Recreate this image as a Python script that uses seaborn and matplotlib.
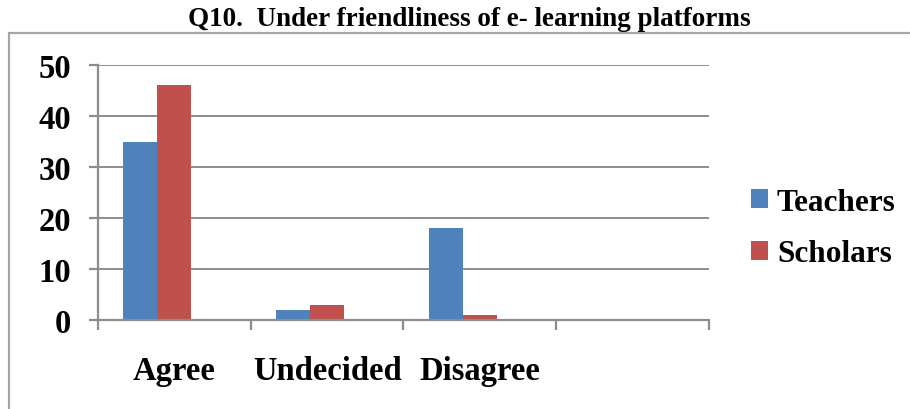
import matplotlib
matplotlib.use("Agg")
import matplotlib.pyplot as plt
from matplotlib.patches import Rectangle
from matplotlib.ticker import FixedLocator
import seaborn as sns
import pandas as pd

# Survey responses
categories = ["Agree", "Undecided", "Disagree"]
slots = categories + [""]
teachers = [35, 2, 18]
scholars = [46, 3, 1]
series_names = ["Teachers", "Scholars"]
spare_series = " "          # empty third series slot in each group
colors = ["#4F81BD", "#C0504D", "#9BBB59"]
yticks = [0, 10, 20, 30, 40, 50]
title = "Q10.  Under friendliness of e- learning platforms"

df = pd.DataFrame({
    "response": categories * 2,
    "group": [series_names[0]] * len(categories) + [series_names[1]] * len(categories),
    "count": teachers + scholars,
})

sns.set_theme(style="white")
plt.rcParams["font.family"] = ["Liberation Serif", "DejaVu Serif"]
plt.rcParams["font.weight"] = "bold"
plt.rcParams["text.color"] = "black"
plt.rcParams["xtick.labelcolor"] = "black"
plt.rcParams["ytick.labelcolor"] = "black"

W, H = 910, 410
fig = plt.figure(figsize=(W / 100, H / 100), dpi=100)
fig.patch.set_facecolor("white")

ax = fig.add_axes([98 / W, 1 - 321 / H, (709 - 98) / W, (321 - 66) / H])

sns.barplot(data=df, x="response", y="count", hue="group", order=slots,
            hue_order=series_names + [spare_series], palette=colors,
            width=0.667, gap=0, saturation=1, linewidth=0, ax=ax, legend=True)

grid_color = "#8c8c8c"
ax.set_ylim(0, 50)
ax.set_xlim(-0.5, len(slots) - 0.5)
ax.set_yticks(yticks)
ax.yaxis.grid(True, color=grid_color, linewidth=1.4)
ax.set_axisbelow(True)
for s in ["top", "right"]:
    ax.spines[s].set_visible(False)
for s in ["left", "bottom"]:
    ax.spines[s].set_color(grid_color)
    ax.spines[s].set_linewidth(1.6)

# Category boundaries carry the tick marks, centres carry the labels
ax.xaxis.set_major_locator(FixedLocator([i - 0.5 for i in range(len(slots) + 1)]))
ax.set_xticklabels([])
ax.xaxis.set_minor_locator(FixedLocator(list(range(len(slots)))))
ax.set_xticklabels(slots, minor=True, fontsize=23.5, fontweight="bold", color="black")
ax.tick_params(axis="x", which="major", length=7, width=1.6, color=grid_color, bottom=True)
ax.tick_params(axis="x", which="minor", length=0, pad=25, labelcolor="black")
ax.tick_params(axis="y", length=6.5, width=1.6, color=grid_color, left=True, pad=13,
               labelsize=23.5, labelcolor="black")
for t in ax.get_yticklabels():
    t.set_fontweight("bold")
ax.set_xlabel("")
ax.set_ylabel("")

handles, labels = ax.get_legend_handles_labels()
keep = [i for i, lab in enumerate(labels) if lab in series_names]
leg = ax.legend([handles[i] for i in keep], [labels[i] for i in keep],
                loc="center left", bbox_to_anchor=(751 / W, 1 - 229 / H),
                bbox_transform=fig.transFigure, frameon=False,
                prop={"family": "Liberation Serif", "weight": "bold", "size": 22.5},
                handlelength=0.55, handleheight=0.55, handletextpad=0.28,
                labelspacing=0.72, borderaxespad=0, borderpad=0)
for t in leg.get_texts():
    t.set_color("black")

fig.text(469 / W, 1 - 20 / H, title, ha="center", va="center", color="black",
         fontsize=19.5, fontweight="bold", family="Liberation Serif")

# Chart frame
fig.patches.append(Rectangle((9 / W, -0.1), 1.2, 1.1 - 34 / H,
                             transform=fig.transFigure, fill=False,
                             edgecolor="#a6a6a6", linewidth=1.6, clip_on=False))

fig.savefig("out.png", dpi=100, facecolor="white")
